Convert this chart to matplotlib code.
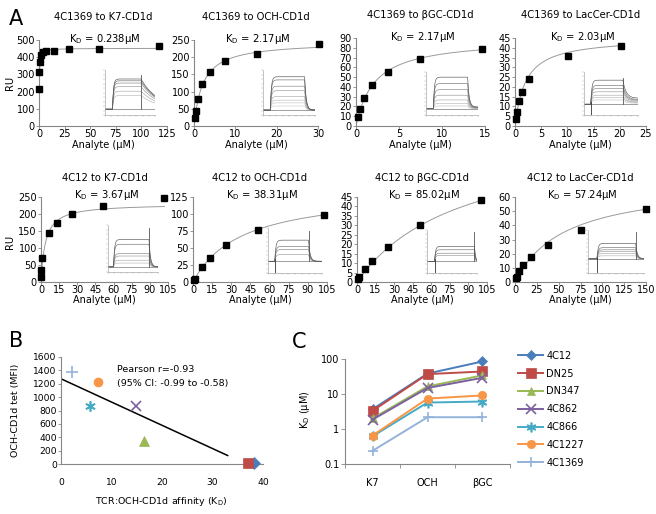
import numpy as np
import matplotlib
matplotlib.use("Agg")
import matplotlib.pyplot as plt
from matplotlib.ticker import FixedLocator

W, H = 656, 514
fig = plt.figure(figsize=(W / 100, H / 100), dpi=100)
plt.rcParams['font.family'] = ['DejaVu Sans']

AXC = '#868686'

# ---------------- Panel A data ----------------
titles = ['4C1369 to K7-CD1d', '4C1369 to OCH-CD1d', '4C1369 to βGC-CD1d', '4C1369 to LacCer-CD1d',
          '4C12 to K7-CD1d', '4C12 to OCH-CD1d', '4C12 to βGC-CD1d', '4C12 to LacCer-CD1d']
kd_text = ['0.238', '2.17', '2.17', '2.03', '3.67', '38.31', '85.02', '57.24']
kd_values = [0.238, 2.17, 2.17, 2.03, 3.67, 38.31, 85.02, 57.24]
rmax_values = [452, 245, 89.5, 45.2, 230, 135.5, 79.8, 71]

conc_1369_K7 = [0.23, 0.46, 0.91, 1.83, 3.66, 7.3, 14.6, 29.3, 58.5, 117]
ru_1369_K7 = [215, 315, 375, 410, 428, 438, 435, 445, 450, 465]
conc_1369_OCH = [0.16, 0.4, 1.0, 1.85, 3.8, 7.6, 15.2, 30.2]
ru_1369_OCH = [22, 44, 78, 121, 157, 189, 208, 237]
conc_1369_bGC = [0.27, 0.5, 0.97, 1.9, 3.7, 7.4, 14.7]
ru_1369_bGC = [8.9, 17.5, 29, 42, 55, 69, 79]
conc_1369_Lac = [0.2, 0.4, 0.7, 1.3, 2.6, 10.2, 20.3]
ru_1369_Lac = [3.4, 7, 12.8, 17.6, 23.8, 35.6, 41.1]
conc_12_K7 = [0.1, 0.3, 1.1, 6.9, 13.2, 25.5, 51, 102]
ru_12_K7 = [16, 36, 71, 144, 175, 199, 223, 248]
conc_12_OCH = [0.5, 1.4, 6.8, 13.1, 25.9, 51.3, 102.3]
ru_12_OCH = [2.4, 4.8, 21.6, 35, 54, 76, 98.6]
conc_12_bGC = [0.5, 1.3, 6.2, 12.4, 25, 50.7, 100.5]
ru_12_bGC = [1.5, 2.4, 6.9, 11.2, 18.7, 30.2, 43.6]
conc_12_Lac = [1.2, 2.3, 4.7, 9.4, 18.75, 37.5, 75, 150]
ru_12_Lac = [2.5, 3.5, 7.5, 12, 18, 26, 37, 51.5]

concs = [conc_1369_K7, conc_1369_OCH, conc_1369_bGC, conc_1369_Lac,
         conc_12_K7, conc_12_OCH, conc_12_bGC, conc_12_Lac]
rus = [ru_1369_K7, ru_1369_OCH, ru_1369_bGC, ru_1369_Lac,
       ru_12_K7, ru_12_OCH, ru_12_bGC, ru_12_Lac]

x_max = [125, 30, 15, 25, 105, 105, 105, 150]
x_step = [25, 10, 5, 5, 15, 15, 15, 25]
y_max = [500, 250, 90, 45, 250, 125, 45, 60]
y_step = [100, 50, 10, 5, 50, 25, 5, 10]

# axes rectangles in pixels (left, top, right, bottom)
rects = [(39, 40, 167, 126), (194, 40, 318, 126), (356, 38, 485, 126), (515, 38, 646, 126),
         (41, 197, 168, 282), (193, 197, 327, 282), (357, 197, 487, 282), (515, 197, 646, 282)]

# sensorgram insets (levels above baseline, as fraction of inset height)
inset_rects = [(105, 70, 155, 115), (263, 70, 315, 115), (426, 72, 478, 115), (584, 72, 638, 115),
               (108, 225, 158, 272), (268, 228, 322, 273), (427, 230, 477, 273), (588, 230, 644, 273)]
inset_levels = [
    [0.30, 0.40, 0.50, 0.58, 0.63, 0.67],
    [0.09, 0.16, 0.22, 0.30, 0.43, 0.53, 0.67, 0.74],
    [0.06, 0.12, 0.20, 0.31, 0.44, 0.58, 0.73],
    [0.10, 0.16, 0.21, 0.29, 0.37, 0.44, 0.56],
    [0.08, 0.14, 0.23, 0.28, 0.48, 0.58],
    [0.15, 0.26, 0.33, 0.47],
    [0.14, 0.19, 0.27, 0.35],
    [0.07, 0.12, 0.17, 0.21, 0.26, 0.36],
]
inset_base = [0.13, 0.11, 0.15, 0.25, 0.11, 0.26, 0.27, 0.33]
inset_on = [0.15, 0.14, 0.14, 0.125, 0.11, 0.125, 0.15, 0.16]
inset_off = [0.72, 0.80, 0.80, 0.72, 0.82, 0.75, 0.95, 0.85]
inset_tau = [0.35, 0.03, 0.03, 0.06, 0.03, 0.03, 0.02, 0.03]
inset_floor = [0.0, 0.0, 0.05, 0.25, 0.0, 0.0, 0.0, 0.0]
inset_dip = [None, None, None, 0.0, None, 0.0, 0.0, 0.0]
inset_spike = [0.9, None, None, 0.85, 0.93, 0.93, 0.96, 0.96]


def axpx(l, t, r, b):
    return fig.add_axes([l / W, 1 - b / H, (r - l) / W, (b - t) / H])


def ftxt(x, y, s, **kw):
    return fig.text(x / W, 1 - y / H, s, **kw)


def style(ax, fs=7.0):
    for s in ['top', 'right']:
        ax.spines[s].set_visible(False)
    for s in ['left', 'bottom']:
        ax.spines[s].set_color(AXC)
        ax.spines[s].set_linewidth(0.8)
    ax.tick_params(labelsize=fs, length=2, width=0.6, color=AXC, pad=1)


grays = ['#555555', '#707070', '#858585', '#999999', '#aaaaaa', '#b8b8b8', '#c4c4c4', '#cfcfcf']

for i in range(8):
    l, t, r, b = rects[i]
    ax = axpx(l, t, r, b)
    style(ax)
    ax.tick_params(axis='x', pad=0.5)
    ax.set_xlim(0, x_max[i])
    ax.set_ylim(0, y_max[i])
    ax.set_xticks(np.arange(0, x_max[i] + 0.1, x_step[i]))
    ax.set_yticks(np.arange(0, y_max[i] + 0.1, y_step[i]))
    c = np.array(concs[i])
    xx = np.linspace(0, c.max(), 400)
    ax.plot(xx, rmax_values[i] * xx / (kd_values[i] + xx), color='#9a9a9a', lw=0.7, zorder=2)
    ax.plot(c, rus[i], 's', color='black', ms=4.3, zorder=3, clip_on=False)
    cx = (l + r) / 2
    ftxt(cx, t - (23 if i < 4 else 19), titles[i], ha='center', va='center', fontsize=7.2)
    ftxt(cx + 2, t - 1.5, 'K$_\\mathrm{D}$ = ' + kd_text[i] + 'μM', ha='center', va='center', fontsize=7.2)
    ftxt(cx, 145 if i < 4 else 300, 'Analyte (μM)', ha='center', va='center', fontsize=7.0)

    # inset sensorgram
    il, it, ir, ib = inset_rects[i]
    ia = axpx(il, it, ir, ib)
    ia.set_xlim(0, 1)
    ia.set_ylim(0, 1)
    ia.patch.set_alpha(0)
    for s in ['top', 'right']:
        ia.spines[s].set_visible(False)
    for s in ['left', 'bottom']:
        ia.spines[s].set_color('#aaaaaa')
        ia.spines[s].set_linewidth(0.5)
    ia.set_xticks(np.linspace(0, 1, 9))
    ia.set_yticks(np.linspace(0, 1, 11))
    ia.tick_params(length=1.2, width=0.3, color='#aaaaaa', labelleft=False, labelbottom=False)
    tt = np.linspace(0, 1, 400)
    base = inset_base[i]
    ton, toff = inset_on[i], inset_off[i]
    levels = inset_levels[i]
    for k, L in enumerate(levels):
        y = np.zeros_like(tt)
        on = (tt >= ton) & (tt < toff)
        y[on] = L * (1 - np.exp(-(tt[on] - ton) / 0.02))
        off = tt >= toff
        fl = inset_floor[i]
        y[off] = L * (fl + (1 - fl) * np.exp(-(tt[off] - toff) / inset_tau[i]))
        col = grays[(len(levels) - 1 - k) % len(grays)]
        ia.plot(tt, base + y, color=col, lw=0.45)
    ia.plot([0, 1], [base, base], color='#555555', lw=0.4)
    if inset_dip[i] is not None:
        ia.plot([ton, ton], [inset_dip[i], base + 0.05], color='#333333', lw=0.6)
    if inset_spike[i] is not None:
        ia.plot([toff, toff], [base, inset_spike[i]], color='#555555', lw=0.6)

ftxt(16, 19, 'A', fontsize=15, ha='center', va='center')
ftxt(10, 83, 'RU', fontsize=7.2, rotation=90, ha='center', va='center')
ftxt(10, 242, 'RU', fontsize=7.2, rotation=90, ha='center', va='center')

# ---------------- Panel B / C data ----------------
tcr_names = ['4C12', 'DN25', 'DN347', '4C862', '4C866', '4C1227', '4C1369']
kd_K7 = [3.67, 3.3, 2.0, 1.85, 0.62, 0.65, 0.238]
kd_OCH = [38.31, 37.0, 16.5, 14.85, 5.7, 7.4, 2.17]
kd_bGC = [85.02, 44, 34, 29, 6.1, 9.1, 2.17]
och_tet_mfi = [10, 20, 340, 860, 860, 1220, 1370]
ligands = ['K7', 'OCH', 'βGC']

colors = ['#4A7EBB', '#BE4B48', '#98B954', '#7D60A0', '#46AAC5', '#F79646', '#94B3DB']
markers = ['D', 's', '^', 'x', (6, 2, 0), 'o', '+']
msizes = [6, 7, 6.5, 7, 7.5, 6.5, 8]

# Panel B
axb = axpx(61, 357, 263, 464)
style(axb, fs=6.6)
axb.set_xlim(0, 40)
axb.set_ylim(0, 1600)
axb.set_xticks([0, 10, 20, 30, 40])
axb.set_yticks(np.arange(0, 1601, 200))
axb.tick_params(axis='x', pad=10, length=0)
for k in range(7):
    mew = 1.2 if markers[k] in ['x', '+'] or isinstance(markers[k], tuple) else 0.5
    axb.plot(kd_OCH[k], och_tet_mfi[k], marker=markers[k], color=colors[k], ms=msizes[k],
             mew=mew, ls='none', clip_on=False, zorder=3)
slope, intercept = np.polyfit(kd_OCH, och_tet_mfi, 1)
xl = np.array([0, 33])
axb.plot(xl, intercept + slope * xl, color='black', lw=1.1, zorder=2)
axb.text(11, 1420, 'Pearson r=-0.93', fontsize=6.8, va='center')
axb.text(11, 1210, '(95% CI: -0.99 to -0.58)', fontsize=6.8, va='center')
ftxt(161, 501, 'TCR:OCH-CD1d affinity (K$_\\mathrm{D}$)', fontsize=6.8, ha='center', va='center')
ftxt(16, 410, 'OCH-CD1d tet (MFI)', fontsize=6.8, rotation=90, ha='center', va='center')
ftxt(16, 341, 'B', fontsize=15, ha='center', va='center')

# Panel C
axc = axpx(345, 359, 510, 464)
style(axc, fs=7)
axc.set_yscale('log')
axc.set_ylim(0.1, 100)
axc.set_xlim(-0.5, 2.5)
axc.yaxis.set_major_locator(FixedLocator([0.1, 1, 10, 100]))
axc.yaxis.set_minor_locator(FixedLocator([]))
axc.set_yticklabels(['0.1', '1', '10', '100'])
axc.set_xticks([0, 1, 2])
axc.set_xticklabels(ligands)
axc.xaxis.set_minor_locator(FixedLocator([-0.5, 0.5, 1.5, 2.5]))
axc.tick_params(axis='x', which='major', length=0, pad=10)
axc.tick_params(axis='x', which='minor', length=3, width=0.6, color=AXC)
axc.tick_params(axis='y', length=3)
xc = np.arange(3)
for k in range(7):
    vals = [kd_K7[k], kd_OCH[k], kd_bGC[k]]
    mew = 1.2 if markers[k] in ['x', '+'] or isinstance(markers[k], tuple) else 0.5
    axc.plot(xc, vals, marker=markers[k], color=colors[k], ms=msizes[k] - 0.5, mew=mew,
             lw=1.4, label=tcr_names[k], clip_on=False)
leg = axc.legend(loc='upper left', bbox_to_anchor=((514 - 345) / 165, 1 + 12 / 105), frameon=False,
                 fontsize=7, handlelength=2.6, handletextpad=0.3, labelspacing=0.8, borderaxespad=0)
ftxt(305, 410, 'K$_\\mathrm{D}$ (μM)', fontsize=7, rotation=90, ha='center', va='center')
ftxt(299, 342, 'C', fontsize=15, ha='center', va='center')

fig.savefig('out.png', dpi=100)
